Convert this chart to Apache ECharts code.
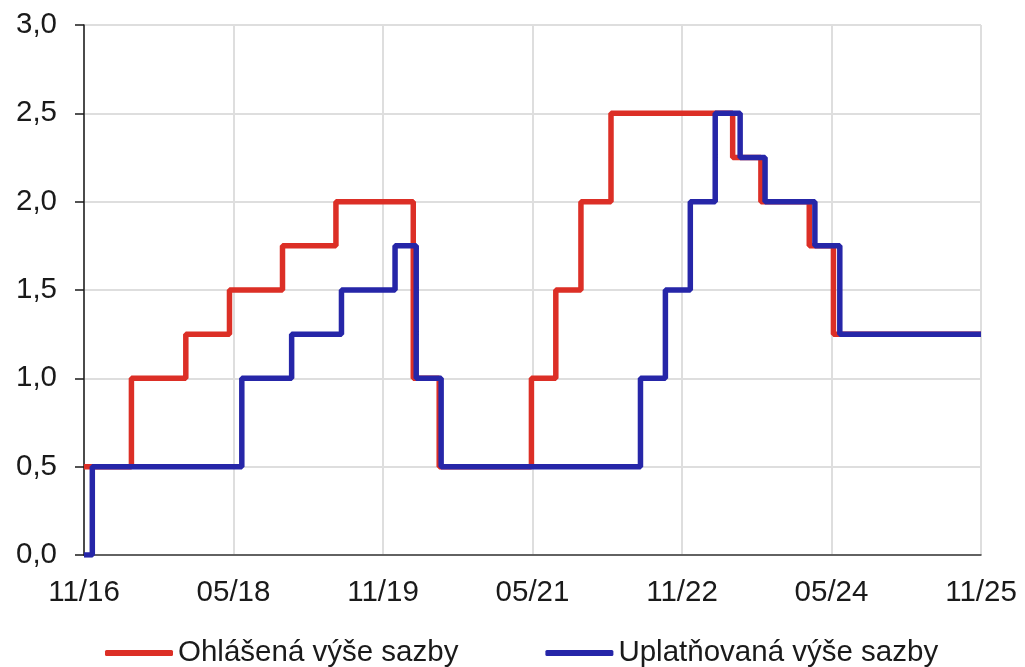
<!DOCTYPE html>
<html>
<head>
<meta charset="utf-8">
<title>Sazba proticyklické kapitálové rezervy</title>
<script src="https://cdn.jsdelivr.net/npm/echarts@6/dist/echarts.min.js"></script>
<style>
  html, body { margin: 0; padding: 0; background: #ffffff; }
  #chart { width: 1025px; height: 667px; }
</style>
</head>
<body>
<div id="chart"></div>
<script>
// Announced rate: date of the decision and the new rate (%)
const announcedDates = [
  '2016-12-01', '2017-05-23', '2017-12-09', '2018-05-17', '2018-11-28',
  '2019-06-11', '2020-03-21', '2020-06-24', '2021-05-28', '2021-08-26',
  '2021-11-26', '2022-03-15', '2023-06-04', '2023-09-16', '2024-03-11',
  '2024-06-08', '2025-12-01'
];
const announcedRates = [
  0.5, 1.0, 1.25, 1.5, 1.75,
  2.0, 1.0, 0.5, 1.0, 1.5,
  2.0, 2.5, 2.25, 2.0, 1.75,
  1.25, 1.25
];

// Applied rate: date from which the rate is in force (%)
const appliedDates = [
  '2016-12-01', '2017-01-01', '2018-07-01', '2019-01-01', '2019-07-01',
  '2020-01-15', '2020-04-01', '2020-07-01', '2022-07-01', '2022-10-01',
  '2023-01-01', '2023-04-01', '2023-07-01', '2023-10-01', '2024-04-01',
  '2024-07-01', '2025-12-01'
];
const appliedRates = [
  0.0, 0.5, 1.0, 1.25, 1.5,
  1.75, 1.0, 0.5, 1.0, 1.5,
  2.0, 2.5, 2.25, 2.0, 1.75,
  1.25, 1.25
];

const xTickLabels = ['11/16', '05/18', '11/19', '05/21', '11/22', '05/24', '11/25'];
const yTickLabels = ['0,0', '0,5', '1,0', '1,5', '2,0', '2,5', '3,0'];
const seriesNames = ['Ohlášená výše sazby', 'Uplatňovaná výše sazby'];

// Axis runs in months counted from the end of November 2016
const ORIGIN_YEAR = 2016, ORIGIN_MONTH = 12;
function monthsFromOrigin(dateStr) {
  const [y, m, d] = dateStr.split('-').map(Number);
  const daysInMonth = new Date(y, m, 0).getDate();
  return (y - ORIGIN_YEAR) * 12 + (m - ORIGIN_MONTH) + (d - 1) / daysInMonth;
}
function toPoints(dates, values) {
  return dates.map((d, i) => [monthsFromOrigin(d), values[i]]);
}

const FONT = '"Liberation Sans", Arial, sans-serif';
const TEXT = '#1a1a1a';

const chart = echarts.init(document.getElementById('chart'), null, { renderer: 'canvas' });
chart.setOption({
  animation: false,
  backgroundColor: '#ffffff',
  grid: { left: 84, right: 44, top: 25, bottom: 112 },
  xAxis: {
    type: 'value',
    min: 0,
    max: 108,
    interval: 18,
    axisLine: { show: true, lineStyle: { color: '#3a3a3a', width: 1.5 } },
    axisTick: { show: false },
    axisLabel: {
      margin: 23,
      fontFamily: FONT,
      fontSize: 29.5,
      color: TEXT,
      formatter: v => xTickLabels[Math.round(v / 18)]
    },
    splitLine: { show: true, lineStyle: { color: '#dedede', width: 2 } }
  },
  yAxis: {
    type: 'value',
    min: 0,
    max: 3,
    interval: 0.5,
    axisLine: { show: true, lineStyle: { color: '#1a1a1a', width: 1.5 } },
    axisTick: { show: true, inside: false, length: 9, lineStyle: { color: '#1a1a1a', width: 1.5 } },
    axisLabel: {
      margin: 27,
      fontFamily: FONT,
      fontSize: 29.5,
      color: TEXT,
      formatter: v => yTickLabels[Math.round(v / 0.5)]
    },
    splitLine: { show: true, lineStyle: { color: '#dedede', width: 2 } }
  },
  legend: {
    left: 100,
    top: 633,
    itemWidth: 68,
    itemHeight: 6,
    itemGap: 87,
    icon: 'roundRect',
    textStyle: { fontFamily: FONT, fontSize: 29.5, color: TEXT },
    data: seriesNames
  },
  series: [
    {
      name: seriesNames[0],
      type: 'line',
      step: 'end',
      showSymbol: false,
      color: '#dc2f26',
      lineStyle: { width: 5.5, color: '#dc2f26' },
      data: toPoints(announcedDates, announcedRates)
    },
    {
      name: seriesNames[1],
      type: 'line',
      step: 'end',
      showSymbol: false,
      color: '#2626a8',
      lineStyle: { width: 5.5, color: '#2626a8' },
      data: toPoints(appliedDates, appliedRates)
    }
  ]
});
</script>
</body>
</html>
